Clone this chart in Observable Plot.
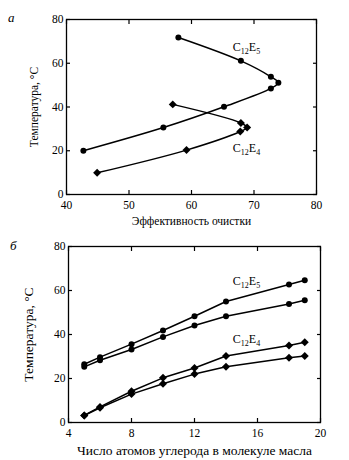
<!DOCTYPE html>
<html>
<head>
<meta charset="utf-8">
<script src="https://cdn.jsdelivr.net/npm/d3@7"></script>
<script src="https://cdn.jsdelivr.net/npm/@observablehq/plot@0.6"></script>
<style>
  body { margin: 0; background: #fff; }
  #wrap { position: relative; width: 349px; height: 460px; }
  svg { display: block; }
  .panel { position: absolute; font-family: "Liberation Serif", serif; font-style: italic; font-size: 13px; }
</style>
</head>
<body>
<div id="wrap"></div>
<script>
// ---- Panel a: temperature vs. cleaning efficiency ----
const aE5Eff  = [57.9, 67.9, 72.7, 73.9, 72.7, 65.2, 55.5, 42.7];
const aE5Temp = [71.8, 61.1, 53.8, 51.1, 48.5, 40.1, 30.6, 20.0];
const aE4Eff  = [57.0, 67.9, 68.9, 67.8, 59.2, 44.9];
const aE4Temp = [41.2, 32.7, 30.6, 28.8, 20.3, 9.9];
const aXTicks = [40, 50, 60, 70, 80];
const aYTicks = [0, 20, 40, 60, 80];
const aLabels = [{t: "C12E5", x: 68.8, y: 67.5}, {t: "C12E4", x: 68.8, y: 21.3}];

// ---- Panel б: temperature vs. number of carbon atoms in oil ----
const carbon   = [5, 6, 8, 10, 12, 14, 18, 19];
const bE5Upper = [26.5, 29.7, 35.6, 41.8, 48.3, 55.0, 62.7, 64.7];
const bE5Lower = [25.3, 28.3, 33.2, 38.9, 44.1, 48.3, 53.9, 55.6];
const bE4Upper = [3.2, 7.1, 14.2, 20.3, 24.8, 30.2, 35.0, 36.5];
const bE4Lower = [3.2, 6.7, 12.9, 17.6, 22.0, 25.3, 29.4, 30.2];
const bXTicks = [4, 8, 12, 16, 20];
const bYTicks = [0, 20, 40, 60, 80];
const bLabels = [{t: "C12E5", x: 15.3, y: 64.4}, {t: "C12E4", x: 15.3, y: 37.9}];

const toPts = (xs, ys) => xs.map((x, i) => ({x, y: ys[i]}));

function frameAxes(xTicks, yTicks, xLabel, yLabel, xOff, yOff) {
  const tk = {tickSize: -4, tickFormat: () => "", strokeWidth: 1.2, label: null};
  return [
    Plot.frame({stroke: "black", strokeWidth: 1.3}),
    Plot.axisX(xTicks, {anchor: "bottom", ...tk}),
    Plot.axisX(xTicks, {anchor: "top", ...tk}),
    Plot.axisY(yTicks, {anchor: "left", ...tk}),
    Plot.axisY(yTicks, {anchor: "right", ...tk}),
    Plot.axisX(xTicks, {anchor: "bottom", tickSize: 0, tickPadding: 6, label: xLabel, labelAnchor: "center", labelArrow: "none", labelOffset: xOff}),
    Plot.axisY(yTicks, {anchor: "left", tickSize: 0, tickPadding: 3, label: yLabel, labelAnchor: "center", labelArrow: "none", labelOffset: yOff})
  ];
}

function series(pts, symbol, curve) {
  return [
    Plot.line(pts, {x: "x", y: "y", stroke: "black", strokeWidth: 1.5, curve}),
    Plot.dot(pts, {x: "x", y: "y", fill: "black", r: symbol === "diamond2" ? 3.6 : 3, symbol})
  ];
}

const style = {fontFamily: "Liberation Serif, serif", fontSize: "11.5px", color: "black", background: "white"};

const plotA = Plot.plot({
  width: 349, height: 230,
  marginLeft: 66, marginRight: 33, marginTop: 19, marginBottom: 36,
  x: {domain: [40, 80], axis: null},
  y: {domain: [0, 80], axis: null},
  style,
  marks: [
    ...frameAxes(aXTicks, aYTicks, "Эффективность очистки", "Температура, °C", 30, 37),
    ...series(toPts(aE5Eff, aE5Temp), "circle", "catmull-rom"),
    ...series(toPts(aE4Eff, aE4Temp), "diamond2", "catmull-rom"),
    Plot.text(aLabels, {x: "x", y: "y", text: "t", fontSize: 12})
  ]
});

const plotB = Plot.plot({
  width: 349, height: 230,
  marginLeft: 68, marginRight: 29, marginTop: 16, marginBottom: 38,
  x: {domain: [4, 20], axis: null},
  y: {domain: [0, 80], axis: null},
  style,
  marks: [
    ...frameAxes(bXTicks, bYTicks, "Число атомов углерода в молекуле масла", "Температура, °C", 32, 45),
    ...series(toPts(carbon, bE5Upper), "circle", "linear"),
    ...series(toPts(carbon, bE5Lower), "circle", "linear"),
    ...series(toPts(carbon, bE4Upper), "diamond2", "linear"),
    ...series(toPts(carbon, bE4Lower), "diamond2", "linear"),
    Plot.text(bLabels, {x: "x", y: "y", text: "t", fontSize: 12})
  ]
});

const wrap = document.getElementById("wrap");
wrap.appendChild(plotA);
wrap.appendChild(plotB);

// larger axis titles in panel б
d3.select(plotB).selectAll('g[aria-label="x-axis label"] text, g[aria-label="y-axis label"] text')
  .attr("font-size", "13.5px");

// subscripts for C12E5 / C12E4
d3.selectAll("svg text").each(function() {
  const s = this.textContent;
  const m = /^C(\d+)E(\d+)$/.exec(s);
  if (!m) return;
  const t = d3.select(this);
  t.text("");
  t.append("tspan").text("C");
  t.append("tspan").attr("font-size", 8).attr("dy", 3).text(m[1]);
  t.append("tspan").attr("dy", -3).text("E");
  t.append("tspan").attr("font-size", 8).attr("dy", 3).text(m[2]);
});

const pa = document.createElement("div");
pa.className = "panel"; pa.textContent = "а";
pa.style.left = "8px"; pa.style.top = "10px";
const pb = document.createElement("div");
pb.className = "panel"; pb.textContent = "б";
pb.style.left = "10px"; pb.style.top = "238px";
wrap.appendChild(pa); wrap.appendChild(pb);
</script>
</body>
</html>
